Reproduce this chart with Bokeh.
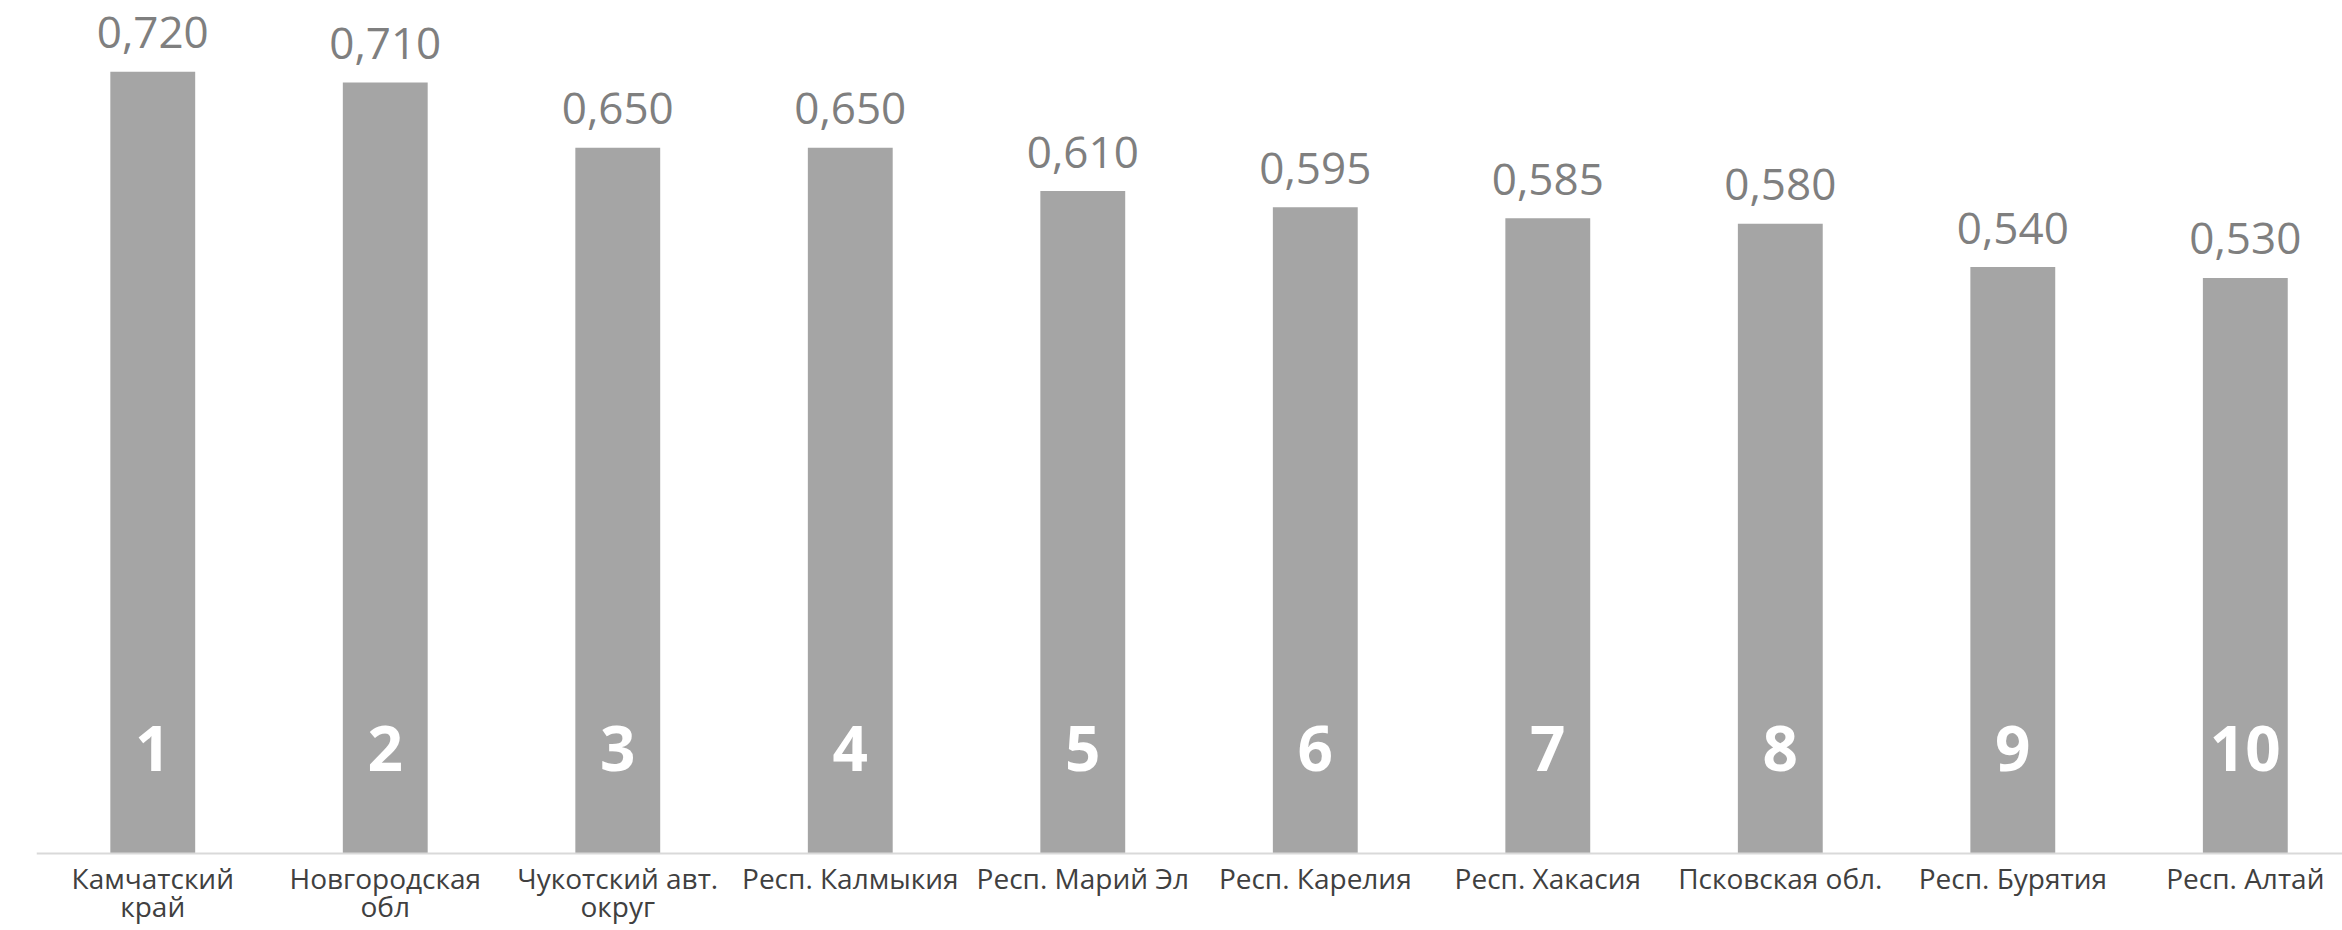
from bokeh.plotting import figure
from bokeh.models import Range1d, Span, ColumnDataSource
from bokeh.core.properties import value
from bokeh.embed import file_html
from bokeh.resources import INLINE

categories = ["Камчатский\nкрай", "Новгородская\nобл", "Чукотский авт.\nокруг",
              "Респ. Калмыкия", "Респ. Марий Эл", "Респ. Карелия", "Респ. Хакасия",
              "Псковская обл.", "Респ. Бурятия", "Респ. Алтай"]
values = [0.720, 0.710, 0.650, 0.650, 0.610, 0.595, 0.585, 0.580, 0.540, 0.530]
ranks = ["1", "2", "3", "4", "5", "6", "7", "8", "9", "10"]

xs = list(range(len(categories)))
line1 = [c.split("\n")[0] for c in categories]
line2 = [c.split("\n")[1] if "\n" in c else "" for c in categories]
val_labels = [f"{v:.3f}".replace(".", ",") for v in values]

src = ColumnDataSource(dict(x=xs, v=values, zero=[0] * len(xs), lab=val_labels,
                            rank=ranks, l1=line1, l2=line2))

p = figure(width=2342, height=930, output_backend="svg", toolbar_location=None,
           x_range=Range1d(-0.5, 9.418), y_range=Range1d(-0.0709, 0.7855),
           min_border_left=36, min_border_right=0, min_border_top=0, min_border_bottom=0)
p.axis.visible = False
p.grid.visible = False
p.outline_line_color = None
p.background_fill_color = "white"

p.vbar(x="x", top="v", bottom=0, width=0.365, source=src, fill_color="#A5A5A5", line_color=None)
p.add_layout(Span(location=0, dimension="width", line_color="#D9D9D9", line_width=2))

p.text(x="x", y="v", text="lab", source=src, text_align="center", text_baseline="alphabetic",
       y_offset=-39, text_font=value("Open Sans"), text_font_size="44px", text_color="#7F7F7F")
p.text(x="x", y="zero", text="rank", source=src, text_align="center", text_baseline="alphabetic",
       y_offset=-105, text_font=value("Open Sans"), text_font_style="bold",
       text_font_size="62px", text_color="white")
p.text(x="x", y="zero", text="l1", source=src, text_align="center", text_baseline="alphabetic",
       y_offset=24, text_font=value("Open Sans"), text_font_size="28px", text_color="#404040")
p.text(x="x", y="zero", text="l2", source=src, text_align="center", text_baseline="alphabetic",
       y_offset=52, text_font=value("Open Sans"), text_font_size="28px", text_color="#404040")

open("out.html", "w").write(file_html(p, INLINE))
